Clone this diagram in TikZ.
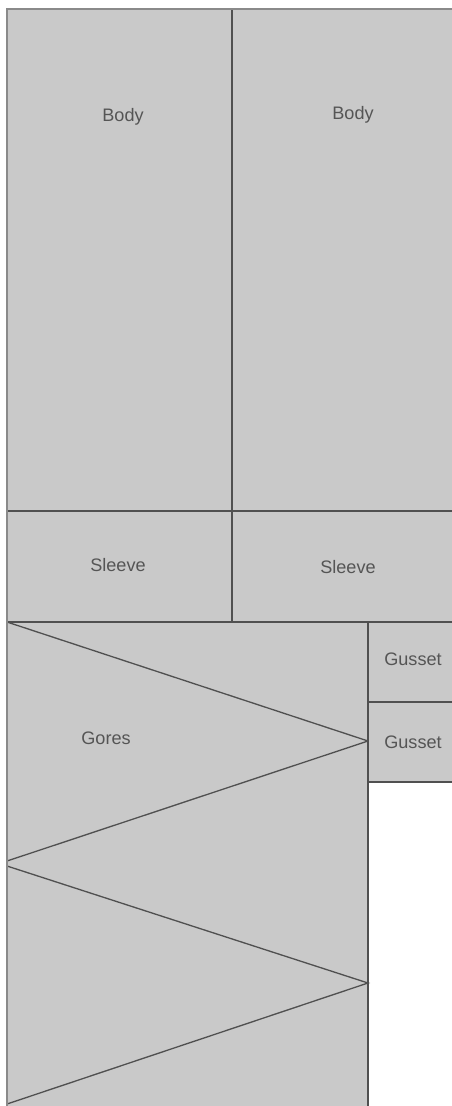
\documentclass[tikz,border=0pt]{standalone}
\usepackage{fontspec}
\setmainfont{Liberation Sans}
\definecolor{cloth}{HTML}{C9C9C9}
\definecolor{seam}{HTML}{505050}
\definecolor{edge}{HTML}{8A8A8A}
\definecolor{lbl}{HTML}{555555}

\begin{document}
\begin{tikzpicture}[
  x=0.02cm, y=-0.02cm,
  piece/.style={fill=cloth, draw=seam, line width=0.65pt},
  gore/.style={draw=seam, line width=0.75pt},
  label/.style={font=\fontsize{10.3}{12}\selectfont, text=lbl, inner sep=0pt},
]

% Page area
\useasboundingbox (0,0) rectangle (452,1106);

% =============================================
% Body panels
% =============================================
\draw[piece] (7,9) rectangle (232,511);
\draw[piece] (232,9) rectangle (460,511);
\node[label] (body1) at (123,117) {Body};
\node[label] (body2) at (353,115) {Body};

% =============================================
% Sleeves
% =============================================
\draw[piece] (7,511) rectangle (232,622);
\draw[piece] (232,511) rectangle (460,622);
\node[label] (sleeve1) at (118,565) {Sleeve};
\node[label] (sleeve2) at (348,567) {Sleeve};

% =============================================
% Gores (zigzag cut)
% =============================================
\draw[piece] (7,622) rectangle (368,1112);
\draw[gore] (7,622) -- (368,741) -- (7,861);
\draw[gore] (7,866) -- (368,983) -- (7,1104);
\node[label] (gores) at (106,738) {Gores};

% =============================================
% Gussets
% =============================================
\draw[piece] (368,622) rectangle (460,702);
\draw[piece] (368,702) rectangle (460,782);
\node[label] (gusset1) at (413,659) {Gusset};
\node[label] (gusset2) at (413,742) {Gusset};

% Outer edge, lighter
\draw[edge, line width=1.3pt] (7,1106) -- (7,9) -- (452,9);

\end{tikzpicture}
\end{document}
